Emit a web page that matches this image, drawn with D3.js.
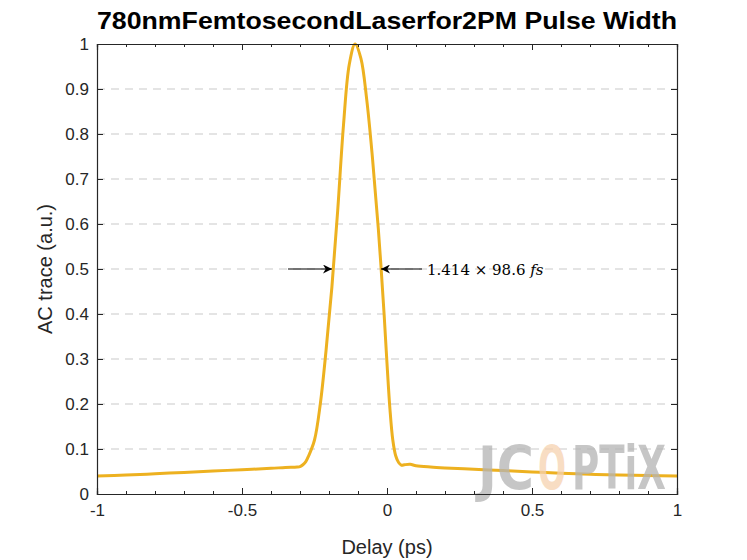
<!DOCTYPE html>
<html><head><meta charset="utf-8">
<script src="https://cdn.jsdelivr.net/npm/d3@7"></script>
<style>body{margin:0;background:#fff}svg{font-family:"Liberation Sans",Arial,sans-serif}</style>
</head><body>
<svg id="c" width="747" height="560"></svg>
<script>
// trace samples (delay ps, AC trace a.u.)
var delay = [-1,-0.9,-0.8,-0.7,-0.6,-0.5,-0.4,-0.35,-0.31,-0.3,-0.29,-0.28,-0.27,-0.25,-0.23,-0.21,-0.19,-0.17,-0.15,-0.13,-0.11,-0.09,-0.07,-0.05,-0.03,-0.01,0,0.01,0.02,0.03,0.04,0.05,0.06,0.08,0.1,0.15,0.2,0.3,0.4,0.5,0.6,0.7,0.8,0.9,1];
var trace = [0.04,0.042,0.045,0.048,0.051,0.054,0.057,0.059,0.06,0.061,0.065,0.072,0.085,0.12,0.2,0.32,0.46,0.63,0.82,0.955,1.0,0.968,0.877,0.746,0.59,0.4,0.29,0.19,0.12,0.085,0.07,0.064,0.065,0.066,0.063,0.06,0.058,0.055,0.052,0.049,0.046,0.044,0.042,0.041,0.04];
var xTicks = [-1,-0.5,0,0.5,1];
var yTicks = [0,0.1,0.2,0.3,0.4,0.5,0.6,0.7,0.8,0.9,1];

var svg = d3.select("#c");
var L = 97, R = 677, T = 44, B = 494;
var x = d3.scaleLinear().domain([-1,1]).range([L,R]);
var y = d3.scaleLinear().domain([0,1]).range([B,T]);

// grid
svg.append("g").selectAll("line").data(yTicks.slice(1,-1)).join("line")
  .attr("x1",L).attr("x2",R).attr("y1",d=>y(d)).attr("y2",d=>y(d))
  .attr("stroke","#dcdcdc").attr("stroke-width",1.5).attr("stroke-dasharray","8,6");

// curve
var pts = delay.map((d,i)=>[d,trace[i]]);
svg.append("path").datum(pts)
  .attr("d", d3.line().x(d=>x(d[0])).y(d=>y(d[1])).curve(d3.curveCatmullRom))
  .attr("fill","none").attr("stroke","#edb120").attr("stroke-width",3);

// watermark
var wmParts = [["JC","#b4b4b4",478,56],["O","#f6d2b0",538,28],["PTiX","#b4b4b4",572,94]];
wmParts.forEach(s=>svg.append("text").attr("x",s[2]).attr("y",489).attr("opacity",0.75)
  .attr("font-family","DejaVu Sans Condensed").attr("font-weight","bold").attr("font-size",60)
  .attr("textLength",s[3]).attr("lengthAdjust","spacingAndGlyphs").attr("fill",s[1]).text(s[0]));

// axes
var fmt = d => String(d);
var minor = d3.range(-10,11).map(d=>d/10);
var xa = svg.append("g").attr("transform","translate(0,"+B+")")
  .call(d3.axisBottom(x).tickValues(xTicks).tickSize(-6).tickPadding(10).tickFormat(fmt));
var xm = svg.append("g").attr("transform","translate(0,"+B+")")
  .call(d3.axisBottom(x).tickValues(minor).tickSize(-3).tickFormat(""));
var xt = svg.append("g").attr("transform","translate(0,"+T+")")
  .call(d3.axisTop(x).tickValues(xTicks).tickSize(-6).tickFormat(""));
var xtm = svg.append("g").attr("transform","translate(0,"+T+")")
  .call(d3.axisTop(x).tickValues(minor).tickSize(-3).tickFormat(""));
var ya = svg.append("g").attr("transform","translate("+L+",0)")
  .call(d3.axisLeft(y).tickValues(yTicks).tickSize(-6).tickPadding(8).tickFormat(fmt));
var yr = svg.append("g").attr("transform","translate("+R+",0)")
  .call(d3.axisRight(y).tickValues(yTicks).tickSize(-6).tickFormat(""));
[xa,xm,xt,xtm,ya,yr].forEach(g=>{
  g.select(".domain").attr("stroke","#262626").attr("stroke-width",1.2);
  g.selectAll(".tick line").attr("stroke","#262626");
  g.selectAll("text").attr("fill","#262626").attr("font-size",17).attr("font-family","Liberation Sans, Arial");
});

// labels
svg.append("text").attr("x",L).attr("y",29)
  .attr("font-weight","bold").attr("font-size",24).attr("textLength",R-L).attr("lengthAdjust","spacingAndGlyphs")
  .attr("fill","#000").text("780nmFemtosecondLaserfor2PM Pulse Width");
svg.append("text").attr("x",387).attr("y",554).attr("text-anchor","middle")
  .attr("font-size",20).attr("fill","#262626").text("Delay (ps)");
svg.append("text").attr("transform","translate(52,269) rotate(-90)").attr("text-anchor","middle")
  .attr("font-size",20).attr("fill","#262626").text("AC trace (a.u.)");

// annotation arrows
var defs = svg.append("defs");
defs.append("marker").attr("id","ah").attr("viewBox","0 0 10 10").attr("refX",10).attr("refY",5)
  .attr("markerWidth",12).attr("markerHeight",9).attr("markerUnits","userSpaceOnUse").attr("orient","auto")
  .append("path").attr("d","M0,0 L10,5 L0,10 L3,5 Z").attr("fill","#000");
svg.append("line").attr("x1",288).attr("x2",332).attr("y1",y(0.5)).attr("y2",y(0.5))
  .attr("stroke","#000").attr("stroke-width",1.2).attr("marker-end","url(#ah)");
svg.append("line").attr("x1",422).attr("x2",381).attr("y1",y(0.5)).attr("y2",y(0.5))
  .attr("stroke","#000").attr("stroke-width",1.2).attr("marker-end","url(#ah)");
var ann = svg.append("text").attr("x",427).attr("y",y(0.5)+6).attr("font-family","DejaVu Serif, Liberation Serif")
  .attr("font-size",15).attr("fill","#000");
ann.append("tspan").text("1.414 × 98.6 ");
ann.append("tspan").attr("font-style","italic").text("fs");
</script>
</body></html>
